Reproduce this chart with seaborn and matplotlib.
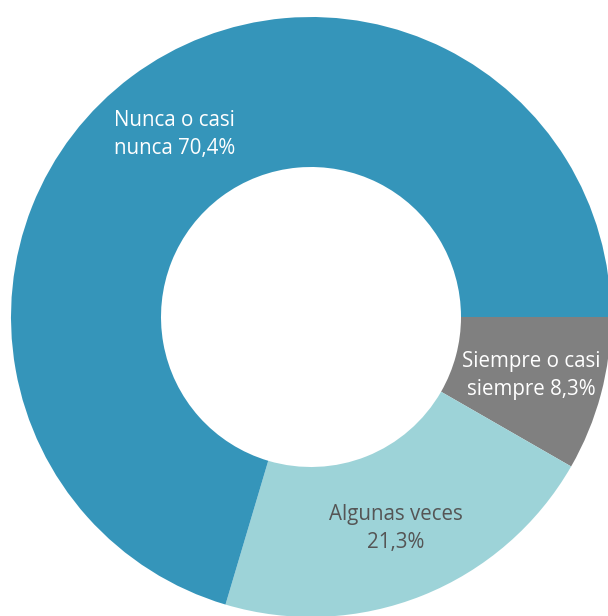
import matplotlib
matplotlib.use("Agg")
import matplotlib.pyplot as plt
import seaborn as sns

# Data
categories = ["Siempre o casi\nsiempre", "Algunas veces", "Nunca o casi\nnunca"]
percentages = [8.3, 21.3, 70.4]
separators = [" ", "\n", " "]
slice_colors = ["#808080", "#9dd3d8", "#3595ba"]
label_colors = ["white", "#555555", "white"]

sns.set_theme(style="white")
plt.rcParams['font.family'] = ['Open Sans', 'DejaVu Sans']

labels = [f"{c}{s}{p:.1f}%".replace(".", ",") for c, s, p in zip(categories, separators, percentages)]

fig = plt.figure(figsize=(6.08, 6.16), dpi=100)
ax = fig.add_axes([0, 0, 1, 1])

wedges, texts = ax.pie(
    percentages,
    labels=labels,
    colors=sns.color_palette(slice_colors),
    startangle=0,
    counterclock=False,
    radius=1,
    labeldistance=0.76,
    wedgeprops=dict(width=0.5, linewidth=0),
    textprops=dict(fontsize=14.8),
)
for t, col in zip(texts, label_colors):
    t.set_color(col)
    t.set_ha('center')
    t.set_va('center')
    t.set_multialignment('center')
    t.set_linespacing(1.45)

# place the ring: 1 unit = 300 px
ax.set_aspect('auto')
ax.set_xlim(-311 / 300, 297 / 300)
ax.set_ylim(-299 / 300, 317 / 300)
ax.axis('off')

fig.savefig("out.png", dpi=100)
